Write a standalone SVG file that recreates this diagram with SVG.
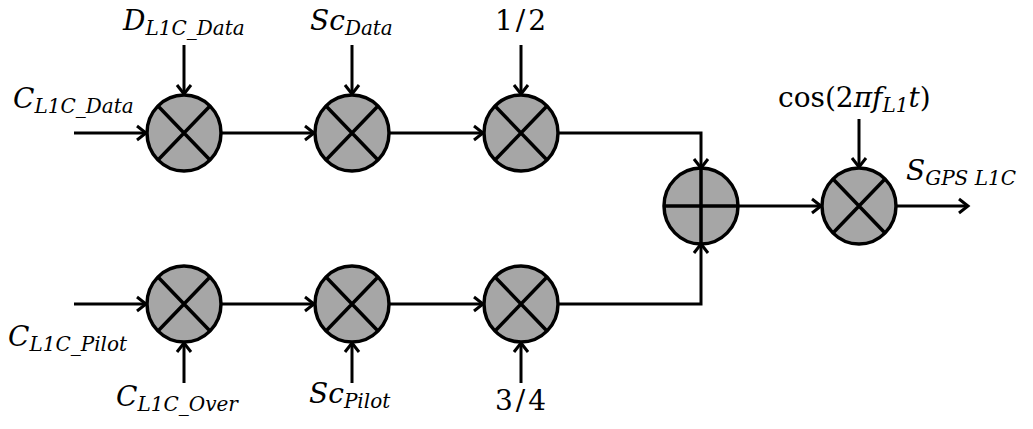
<svg xmlns="http://www.w3.org/2000/svg" width="1033" height="429" viewBox="0 0 1033 429">
<style>
.node{fill:#a6a6a6;stroke:#000;stroke-width:3.5}
.x{stroke:#000;stroke-width:3.5}
.w{fill:none;stroke:#000;stroke-width:3}
.t{font-family:"DejaVu Serif","Liberation Serif",serif;font-size:28px;fill:#000}
.i{font-style:italic}
.s{font-size:20px;font-style:italic}
.n{letter-spacing:3px}
</style>
<defs>
<marker id="a" markerUnits="userSpaceOnUse" markerWidth="16" markerHeight="18" refX="13" refY="9" orient="auto">
<path d="M4,2 L13,9 L4,16" fill="none" stroke="#000" stroke-width="3"/>
</marker>
</defs>
<rect width="1033" height="429" fill="#fff"/>
<g id="connectors">
<path class="w" d="M74,133 H146" marker-end="url(#a)"/>
<path class="w" d="M222,133 H314" marker-end="url(#a)"/>
<path class="w" d="M390,133 H483" marker-end="url(#a)"/>
<path class="w" d="M559,133 H701 V168" marker-end="url(#a)"/>
<path class="w" d="M74,304 H146" marker-end="url(#a)"/>
<path class="w" d="M222,304 H314" marker-end="url(#a)"/>
<path class="w" d="M390,304 H483" marker-end="url(#a)"/>
<path class="w" d="M559,304 H701 V244" marker-end="url(#a)"/>
<path class="w" d="M739,206 H821" marker-end="url(#a)"/>
<path class="w" d="M897,206 H968" marker-end="url(#a)"/>
<path class="w" d="M184,45 V94" marker-end="url(#a)"/>
<path class="w" d="M352,45 V94" marker-end="url(#a)"/>
<path class="w" d="M521,45 V94" marker-end="url(#a)"/>
<path class="w" d="M859,119 V167" marker-end="url(#a)"/>
<path class="w" d="M184,383 V343" marker-end="url(#a)"/>
<path class="w" d="M352,383 V343" marker-end="url(#a)"/>
<path class="w" d="M521,383 V343" marker-end="url(#a)"/>
</g>
<g id="m1"><ellipse class="node" cx="184" cy="133" rx="37" ry="38"/><path class="x" d="M158,106 L210,160 M210,106 L158,160"/></g>
<g id="m2"><ellipse class="node" cx="352" cy="133" rx="37" ry="38"/><path class="x" d="M326,106 L378,160 M378,106 L326,160"/></g>
<g id="m3"><ellipse class="node" cx="521" cy="133" rx="37" ry="38"/><path class="x" d="M495,106 L547,160 M547,106 L495,160"/></g>
<g id="m4"><ellipse class="node" cx="184" cy="304" rx="37" ry="38"/><path class="x" d="M158,277 L210,331 M210,277 L158,331"/></g>
<g id="m5"><ellipse class="node" cx="352" cy="304" rx="37" ry="38"/><path class="x" d="M326,277 L378,331 M378,277 L326,331"/></g>
<g id="m6"><ellipse class="node" cx="521" cy="304" rx="37" ry="38"/><path class="x" d="M495,277 L547,331 M547,277 L495,331"/></g>
<g id="sum"><ellipse class="node" cx="701" cy="206" rx="37" ry="38"/><path class="x" d="M664,206 H738 M701,168 V244"/></g>
<g id="m7"><ellipse class="node" cx="859" cy="206" rx="37" ry="38"/><path class="x" d="M833,179 L885,233 M885,179 L833,233"/></g>
<g id="labels">
<text class="t i" x="123" y="30">D<tspan class="s" dy="5">L1C_Data</tspan></text>
<text class="t i" x="310" y="30">Sc<tspan class="s" dy="5">Data</tspan></text>
<text class="t n" x="522" y="30" text-anchor="middle">1/2</text>
<text class="t i" x="13" y="108">C<tspan class="s" dy="5">L1C_Data</tspan></text>
<text class="t" x="778" y="107">cos(2<tspan class="i">π</tspan><tspan class="i">f</tspan><tspan class="s" dy="5">L1</tspan><tspan class="i" dy="-5">t</tspan>)</text>
<text class="t i" x="906" y="180">S<tspan class="s" dy="5">GPS L1C</tspan></text>
<text class="t i" x="8" y="346">C<tspan class="s" dy="5">L1C_Pilot</tspan></text>
<text class="t i" x="116" y="406">C<tspan class="s" dy="5">L1C_Over</tspan></text>
<text class="t i" x="309" y="403">Sc<tspan class="s" dy="5">Pilot</tspan></text>
<text class="t n" x="522" y="410" text-anchor="middle">3/4</text>
</g>
</svg>
